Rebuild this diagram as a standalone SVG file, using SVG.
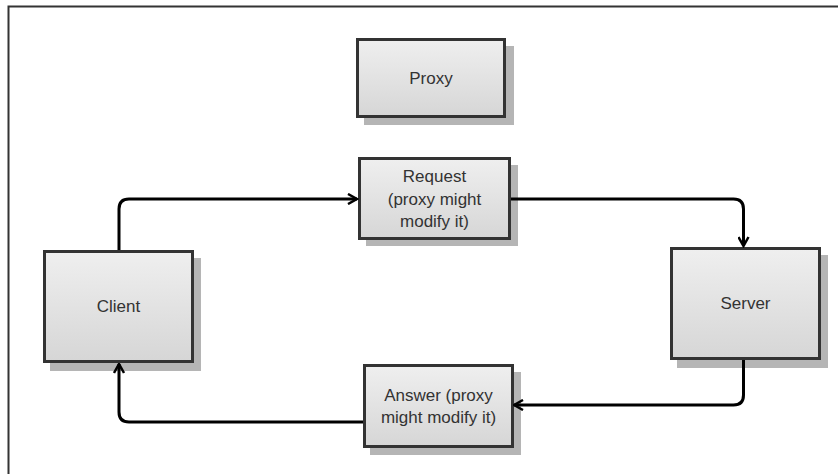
<svg xmlns="http://www.w3.org/2000/svg" width="838" height="474" viewBox="0 0 838 474">
<defs>
<linearGradient id="g" x1="0" y1="0" x2="0" y2="1">
<stop offset="0" stop-color="#efefef"/>
<stop offset="1" stop-color="#d6d6d6"/>
</linearGradient>
<marker id="arr" viewBox="0 0 12 12" refX="10.5" refY="6" markerWidth="12" markerHeight="12" markerUnits="userSpaceOnUse" orient="auto">
<path d="M1.5,1 L10.5,6 L1.5,11" fill="none" stroke="#000" stroke-width="2.5" stroke-linejoin="miter"/>
</marker>
</defs>
<style>
.sh{fill:#b5b5b5}
.bx{fill:url(#g);stroke:#333;stroke-width:3}
.t{font-family:"Liberation Sans",Arial,sans-serif;font-size:17px;fill:#333;text-anchor:middle}
.c{fill:none;stroke:#000;stroke-width:3}
</style>
<rect width="838" height="474" fill="#fff"/>
<path d="M8.5,474 V6.5 H838" fill="none" stroke="#333" stroke-width="2"/>
<g id="proxy">
<rect class="sh" x="364" y="46" width="150" height="79"/>
<rect class="bx" x="357.5" y="39.5" width="147" height="77"/>
<text class="t" x="431" y="84">Proxy</text>
</g>
<g id="request">
<rect class="sh" x="366" y="165" width="152" height="81"/>
<rect class="bx" x="359.5" y="158.5" width="150" height="80"/>
<text class="t" x="434.5" y="182">Request</text>
<text class="t" x="434.5" y="204.5">(proxy might</text>
<text class="t" x="434.5" y="227">modify it)</text>
</g>
<g id="client">
<rect class="sh" x="50" y="258" width="151" height="113"/>
<rect class="bx" x="44.5" y="251.5" width="148" height="110"/>
<text class="t" x="118.5" y="312">Client</text>
</g>
<g id="server">
<rect class="sh" x="677" y="255" width="151" height="113"/>
<rect class="bx" x="671.5" y="248.5" width="148" height="110"/>
<text class="t" x="745.5" y="309">Server</text>
</g>
<g id="answer">
<rect class="sh" x="370" y="372" width="151" height="83"/>
<rect class="bx" x="364.5" y="365.5" width="148" height="81"/>
<text class="t" x="438.5" y="401">Answer (proxy</text>
<text class="t" x="438.5" y="423">might modify it)</text>
</g>
<g id="connectors">
<path class="c" d="M119,250 V209 Q119,199 129,199 H357" marker-end="url(#arr)"/>
<path class="c" d="M511,199 H733.5 Q743.5,199 743.5,209 V246" marker-end="url(#arr)"/>
<path class="c" d="M743.5,360 V395 Q743.5,405 733.5,405 H514" marker-end="url(#arr)"/>
<path class="c" d="M363,422 H129 Q119,422 119,412 V364" marker-end="url(#arr)"/>
</g>
</svg>
